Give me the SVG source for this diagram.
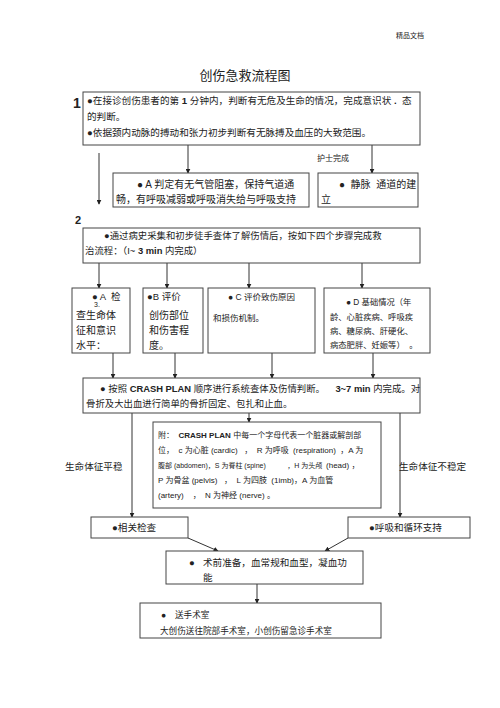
<svg xmlns="http://www.w3.org/2000/svg" width="500" height="708" viewBox="0 0 500 708">
<defs>
<marker id="ah" viewBox="0 0 8 8" refX="7" refY="4" markerWidth="5" markerHeight="5" orient="auto">
<path d="M0,0 L8,4 L0,8 z" fill="#222"/>
</marker>
<style>
.box{fill:#fff;stroke:#444;stroke-width:1}
.t{font-family:"Liberation Sans","Noto Sans CJK SC",sans-serif;fill:#222;white-space:pre}
.c{stroke:#333;stroke-width:1;fill:none;marker-end:url(#ah)}
</style>
</defs>
<rect width="500" height="708" fill="#fff"/>
<text class="t" x="396" y="38" font-size="7" fill="#555">精品文档</text>
<text class="t" x="245" y="80" font-size="13" text-anchor="middle">创伤急救流程图</text>

<g id="connectors">
<line class="c" x1="99" y1="153" x2="99" y2="204"/>
<line class="c" x1="188" y1="145" x2="188" y2="173"/>
<line class="c" x1="372" y1="145" x2="372" y2="173"/>
<line class="c" x1="99" y1="263" x2="99" y2="288"/>
<line class="c" x1="167" y1="263" x2="167" y2="288"/>
<line class="c" x1="249" y1="263" x2="249" y2="288"/>
<line class="c" x1="362" y1="263" x2="362" y2="288"/>
<line class="c" x1="113" y1="353" x2="113" y2="378"/>
<line class="c" x1="175" y1="353" x2="175" y2="378"/>
<line class="c" x1="272" y1="353" x2="272" y2="378"/>
<line class="c" x1="373" y1="353" x2="373" y2="378"/>
<line class="c" x1="249" y1="413" x2="249" y2="422"/>
<line class="c" x1="132" y1="413" x2="132" y2="517"/>
<line class="c" x1="400" y1="413" x2="400" y2="517"/>
<line class="c" x1="188" y1="538" x2="218" y2="551"/>
<line class="c" x1="348" y1="538" x2="325" y2="551"/>
<line class="c" x1="257" y1="584" x2="257" y2="603"/>
</g>

<g id="n1">
<rect class="box" x="83" y="92" width="337" height="53"/>
<text class="t" x="73" y="108" font-size="14" font-weight="bold">1</text>
<text class="t" x="87" y="104" font-size="9.6">●在接诊创伤患者的第 <tspan font-weight="bold">1</tspan> 分钟内，判断有无危及生命的情况，完成意识状 <tspan font-weight="bold">.</tspan>  态</text>
<text class="t" x="87" y="120" font-size="9.6">的判断。</text>
<text class="t" x="87" y="136" font-size="9.6">●依据颈内动脉的搏动和张力初步判断有无脉搏及血压的大致范围。</text>
</g>

<text class="t" x="317" y="161" font-size="8">护士完成</text>

<g id="nA">
<rect class="box" x="113" y="173" width="196" height="34"/>
<text class="t" x="137" y="188" font-size="10">● A 判定有无气管阻塞，保持气道通</text>
<text class="t" x="116" y="203" font-size="10">畅，有呼吸减弱或呼吸消失给与呼吸支持</text>
</g>

<g id="nIV">
<rect class="box" x="318" y="173" width="100" height="34"/>
<text class="t" x="339" y="188" font-size="10">●  静脉  通道的建</text>
<text class="t" x="321" y="203" font-size="10">立</text>
</g>

<g id="n2">
<text class="t" x="75" y="224" font-size="11" font-weight="bold">2</text>
<rect class="box" x="83" y="228" width="337" height="35"/>
<text class="t" x="104" y="239" font-size="9.4">●通过病史采集和初步徒手查体了解伤情后，按如下四个步骤完成救</text>
<text class="t" x="85" y="254" font-size="9.4">治流程：（I~ <tspan font-weight="bold">3 min</tspan> 内完成）</text>
</g>

<g id="nAc">
<rect class="box" x="72" y="288" width="58" height="65"/>
<text class="t" x="92" y="300" font-size="9.5">● A  检</text>
<text class="t" x="94" y="307" font-size="7">3.</text>
<text class="t" x="76" y="319" font-size="10">查生命体</text>
<text class="t" x="76" y="334" font-size="10">征和意识</text>
<text class="t" x="76" y="349" font-size="10">水平：</text>
</g>

<g id="nB">
<rect class="box" x="143" y="288" width="60" height="65"/>
<text class="t" x="147" y="300" font-size="9.5">●B 评价</text>
<text class="t" x="149" y="319" font-size="10">创伤部位</text>
<text class="t" x="149" y="334" font-size="10">和伤害程</text>
<text class="t" x="149" y="349" font-size="10">度。</text>
</g>

<g id="nC">
<rect class="box" x="208" y="288" width="107" height="65"/>
<text class="t" x="228" y="300" font-size="8.5">● C 评价致伤原因</text>
<text class="t" x="213" y="321" font-size="8.5">和损伤机制。</text>
</g>

<g id="nD">
<rect class="box" x="324" y="288" width="106" height="65"/>
<text class="t" x="346" y="305" font-size="8.3">● D 基础情况（年</text>
<text class="t" x="330" y="320" font-size="8.3">龄、心脏疾病、呼吸疾</text>
<text class="t" x="330" y="334" font-size="8.3">病、糖尿病、肝硬化、</text>
<text class="t" x="330" y="348" font-size="8.3">病态肥胖、妊娠等）  。</text>
</g>

<g id="nCRASH">
<rect class="box" x="83" y="378" width="337" height="35"/>
<text class="t" x="100" y="392" font-size="9.4">● 按照 <tspan font-weight="bold">CRASH PLAN</tspan> 顺序进行系统查体及伤情判断。    <tspan font-weight="bold">3~7 min</tspan> 内完成。对</text>
<text class="t" x="86" y="407" font-size="9.4">骨折及大出血进行简单的骨折固定、包扎和止血。</text>
</g>

<g id="nNote">
<rect class="box" x="153" y="422" width="228" height="86" stroke-width="1.3"/>
<text class="t" x="158" y="438" font-size="8">附：  <tspan font-weight="bold">CRASH PLAN</tspan> 中每一个字母代表一个脏器或解剖部</text>
<text class="t" x="158" y="453" font-size="8">位，  c 为心脏 (cardic)   ，  R 为呼吸  (respiration)  ，A 为</text>
<text class="t" x="158" y="468" font-size="7">腹部 (abdomen)，S 为脊柱 (spine)           ，H 为头颅  <tspan font-size="8">(head) ，</tspan></text>
<text class="t" x="158" y="483" font-size="8">P 为骨盆 (pelvis)   ，  L 为四肢  (1imb)，A 为血管</text>
<text class="t" x="158" y="498" font-size="8">(artery)    ，  N 为神经 (nerve) 。</text>
</g>

<text class="t" x="65" y="470" font-size="9.6">生命体征平稳</text>
<text class="t" x="399" y="470" font-size="9.6">生命体征不稳定</text>

<g id="nCheck">
<rect class="box" x="91" y="517" width="97" height="21"/>
<text class="t" x="112" y="531" font-size="9.6">●相关检查</text>
</g>

<g id="nSupport">
<rect class="box" x="348" y="517" width="122" height="21"/>
<text class="t" x="369" y="531" font-size="9.6">●呼吸和循环支持</text>
</g>

<g id="nPre">
<rect class="box" x="166" y="551" width="197" height="33"/>
<text class="t" x="189" y="566" font-size="9.6">●</text>
<text class="t" x="203" y="566" font-size="9.6">术前准备，血常规和血型，凝血功</text>
<text class="t" x="203" y="581" font-size="9.6">能</text>
</g>

<g id="nOR">
<rect class="box" x="140" y="603" width="241" height="35"/>
<text class="t" x="161" y="618" font-size="8.6">●</text>
<text class="t" x="175" y="618" font-size="8.6">送手术室</text>
<text class="t" x="160" y="634" font-size="8.6">大创伤送往院部手术室，小创伤留急诊手术室</text>
</g>
</svg>
